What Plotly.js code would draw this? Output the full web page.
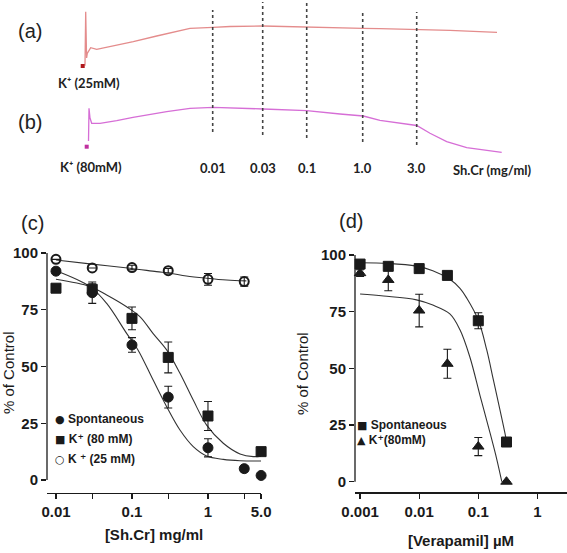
<!DOCTYPE html>
<html><head><meta charset="utf-8">
<script src="https://cdn.plot.ly/plotly-3.0.1.min.js"></script>
<style>html,body{margin:0;padding:0;background:#fff}#chart{width:567px;height:553px}</style>
</head><body><div id="chart"></div>
<script>
// ---------- Panel (a)/(b): tension recordings (arbitrary units) ----------
const traceA_t = [-0.5, 0, 0.7, 1.6, 2.3, 5.7, 11.7, 25, 48.3, 71.7, 91.7, 105, 128, 145, 178, 222, 278, 295, 332, 365, 412];
const traceA_v = [5, 5, 58.3, 12, 16.7, 22.3, 20.7, 23.3, 28.3, 34, 39, 41.7, 42.7, 43.5, 44, 43.3, 41.7, 41.3, 40.7, 39.7, 37.7];
const traceB_t = [3.5, 4, 5, 6.7, 15, 31.7, 48, 65, 81.7, 105, 128.3, 178.3, 221.7, 255, 278.3, 295, 315, 331.7, 345, 361.7, 381.7, 401.7, 416.7];
const traceB_v = [19, 51.7, 42, 36.7, 36.7, 39.3, 42.7, 45.7, 48.3, 51.7, 52.7, 51, 49.3, 46, 44, 39.7, 36.7, 34.5, 26.7, 18.3, 12.3, 9.3, 7.7];
const kAddA = {t: [-2.3], v: [4]};
const kAddB = {t: [1.7], v: [13.3]};
const addTimes = [127.7, 177.7, 221.7, 277.7, 331.7];
const addDoses = ['0.01', '0.03', '0.1', '1.0', '3.0'];

// ---------- Panel (c): Sh.Cr ----------
const shDose = [0.01, 0.03, 0.1, 0.3, 1, 3, 5];
const shSpont = [92, 82.5, 59.5, 36.5, 14.2, 5, 2];
const shSpontErr = [0, 4.7, 3.2, 4.8, 4, 1.3, 0];
const shK80Dose = [0.01, 0.03, 0.1, 0.3, 1, 5];
const shK80 = [84.5, 84, 71.2, 54, 28.2, 12.5];
const shK80Err = [0, 2.4, 5, 6.8, 6.4, 0];
const shK25Dose = [0.01, 0.03, 0.1, 0.3, 1, 3];
const shK25 = [97.2, 93.4, 93.6, 92.2, 88.4, 87.4];
const shK25Err = [0, 0, 1, 1, 2.6, 2];
const shMajorTicks = [0.01, 0.1, 1, 5];
const shMajorText = ['0.01', '0.1', '1', '5.0'];
const shMinorTicks = [0.03, 0.3, 3];
// fitted curves
const fitSpontX = [0.01, 0.028, 0.0465, 0.085, 0.12, 0.19, 0.286, 0.428, 0.64, 0.96, 1.59, 2.64, 5];
const fitSpontY = [92.2, 85.2, 77.8, 64.6, 57.3, 44, 32.3, 22, 14.7, 10.6, 9.1, 8.5, 8.4];
const fitK80X = [0.01, 0.028, 0.0465, 0.085, 0.127, 0.19, 0.286, 0.428, 0.64, 0.96, 1.59, 2.64, 3.94, 5];
const fitK80Y = [88.4, 85.2, 81.5, 76.3, 72, 64.5, 57.3, 47, 35.2, 24.2, 16.2, 11.5, 10.3, 10.5];
const fitK25X = [0.01, 0.028, 0.094, 0.21, 0.316, 0.52, 0.96, 1.76, 3.2];
const fitK25Y = [96.9, 95.2, 93.3, 91.8, 91.1, 89.9, 88.9, 88.1, 87.7];

// ---------- Panel (d): Verapamil ----------
const vDose = [0.001, 0.003, 0.01, 0.03, 0.1, 0.3];
const vSpont = [96, 95, 94, 91, 71, 17.5];
const vSpontErr = [0, 0, 0, 0, 3.5, 0];
const vK80 = [92, 89, 75.5, 52, 15.5, 0];
const vK80Err = [1.5, 4.8, 7.2, 6.4, 4, 0];
const vTicks = [0.001, 0.01, 0.1, 1];
const vTickText = ['0.001', '0.01', '0.1', '1'];
const vFitSpontX = [0.001, 0.003, 0.009, 0.017, 0.033, 0.049, 0.064, 0.1, 0.139, 0.18, 0.233, 0.283, 0.3];
const vFitSpontY = [96.6, 96.3, 95.1, 93.1, 89.3, 85.3, 80.9, 71.3, 58.1, 44.9, 31.6, 21.3, 17.6];
const vFitK80X = [0.001, 0.0025, 0.009, 0.017, 0.033, 0.049, 0.072, 0.107, 0.158, 0.205, 0.25];
const vFitK80Y = [82.8, 81.9, 80.2, 77.9, 74, 67, 55, 38, 21.5, 10, 0];

const yTicks = [0, 25, 50, 75, 100];
const yTickText = ['0', '25', '50', '75', '100'];

const W = 567, H = 553;
const px = p => p / W, py = p => 1 - p / H;
const FONT = 'Liberation Sans, Arial, sans-serif';
const INK = '#1a1a1a';

function pts(x, y, err, sym, extra) {
  return Object.assign({
    x: x, y: y, mode: 'markers', type: 'scatter', cliponaxis: false, hoverinfo: 'skip',
    marker: {symbol: sym, size: 10, color: INK, line: {color: INK, width: 1}},
    error_y: {type: 'data', array: err, visible: true, color: INK, thickness: 1.1, width: 4}
  }, extra || {});
}
function fit(x, y, xa, ya) {
  return {x: x, y: y, mode: 'lines', type: 'scatter', xaxis: xa, yaxis: ya, cliponaxis: false,
    hoverinfo: 'skip', line: {color: '#333', width: 1.1, shape: 'spline', smoothing: 1}};
}

const data = [
  // recordings
  {x: traceA_t, y: traceA_v, xaxis: 'x3', yaxis: 'y3', mode: 'lines', type: 'scatter', hoverinfo: 'skip',
   line: {color: 'rgb(228,140,140)', width: 1.3}},
  {x: kAddA.t, y: kAddA.v, xaxis: 'x3', yaxis: 'y3', mode: 'markers', type: 'scatter', hoverinfo: 'skip',
   marker: {symbol: 'square', size: 4, color: '#b0181c'}},
  {x: traceB_t, y: traceB_v, xaxis: 'x3', yaxis: 'y4', mode: 'lines', type: 'scatter', hoverinfo: 'skip',
   line: {color: 'rgb(214,110,214)', width: 1.3}},
  {x: kAddB.t, y: kAddB.v, xaxis: 'x3', yaxis: 'y4', mode: 'markers', type: 'scatter', hoverinfo: 'skip',
   marker: {symbol: 'square', size: 4, color: '#c0309f'}},
  // panel c
  fit(fitSpontX, fitSpontY, 'x', 'y'),
  fit(fitK80X, fitK80Y, 'x', 'y'),
  fit(fitK25X, fitK25Y, 'x', 'y'),
  pts(shK25Dose, shK25, shK25Err, 'circle-open', {xaxis: 'x', yaxis: 'y', marker: {symbol: 'circle-open', size: 9, color: INK, line: {color: INK, width: 2}}}),
  pts(shK80Dose, shK80, shK80Err, 'square', {xaxis: 'x', yaxis: 'y'}),
  pts(shDose, shSpont, shSpontErr, 'circle', {xaxis: 'x', yaxis: 'y'}),
  // panel d
  fit(vFitSpontX, vFitSpontY, 'x2', 'y2'),
  fit(vFitK80X, vFitK80Y, 'x2', 'y2'),
  pts(vDose, vSpont, vSpontErr, 'square', {xaxis: 'x2', yaxis: 'y2'}),
  pts(vDose, vK80, vK80Err, 'triangle-up', {xaxis: 'x2', yaxis: 'y2'})
];

const tickfont = {family: FONT, size: 15, color: INK, weight: 'bold'};
function yAx(domain, range, anchor, standoff) {
  return {domain: domain, range: range, anchor: anchor, showline: false, showgrid: false, zeroline: false,
    tickmode: 'array', tickvals: yTicks, ticktext: yTickText,
    ticks: 'outside', ticklen: 5, tickwidth: 1.3, tickcolor: INK, tickfont: tickfont, automargin: false,
    title: {text: '% of Control', font: {family: FONT, size: 15, color: INK}, standoff: standoff}, fixedrange: true};
}
function xAx(domain, range, anchor, vals, text, minorVals, title, standoff) {
  const ax = {type: 'log', domain: domain, range: range, anchor: anchor, showline: true, linecolor: INK, linewidth: 1.3,
    showgrid: false, zeroline: false, tickmode: 'array', tickvals: vals, ticktext: text,
    ticks: 'outside', ticklen: 5, tickwidth: 1.3, tickcolor: INK, tickfont: tickfont, automargin: false,
    title: {text: title, font: {family: FONT, size: 15, color: INK, weight: 'bold'}, standoff: standoff}, fixedrange: true};
  if (minorVals) ax.minor = {tickmode: 'array', tickvals: minorVals, ticks: 'outside', ticklen: 5, tickwidth: 1.3, tickcolor: INK, showgrid: false};
  return ax;
}
const hidden = (domain, range, anchor) => ({domain: domain, range: range, anchor: anchor, visible: false, fixedrange: true});

const shapes = [
  {type: 'line', xref: 'x domain', yref: 'y', x0: 0, x1: 0, y0: 0, y1: 100, line: {color: INK, width: 1.3}},
  {type: 'line', xref: 'x2 domain', yref: 'y2', x0: 0, x1: 0, y0: 0, y1: 100, line: {color: INK, width: 1.3}}
];
const lineTops = [10, 2, 2, 10, 12], lineBots = [132, 135, 138, 142, 145];
addTimes.forEach((t, i) => shapes.push({type: 'line', xref: 'x3', yref: 'paper', x0: t, x1: t,
  y0: py(lineBots[i]), y1: py(lineTops[i]), line: {color: '#444', width: 1.6, dash: 'dot'}}));

const ann = (x, y, text, font, extra) => Object.assign({xref: 'paper', yref: 'paper', x: px(x), y: py(y), text: text,
  showarrow: false, font: font, xanchor: 'center', yanchor: 'middle'}, extra || {});
const panelFont = {family: FONT, size: 20, color: '#222'};
const traceFont = {family: 'Lato, Noto Sans, DejaVu Sans, sans-serif', size: 13, color: '#222', weight: 'bold'};
const legFont = {family: 'Liberation Sans, DejaVu Sans, sans-serif', size: 12, color: INK, weight: 'bold'};
const sym = s => '<span style="font-family:DejaVu Sans;font-size:11px;font-weight:normal">' + s + '</span> ';

const annotations = [
  ann(30, 31, '(a)', panelFont), ann(30, 122, '(b)', panelFont),
  ann(32, 223, '(c)', panelFont), ann(351, 221, '(d)', panelFont),
  ann(89, 83, 'K⁺ (25mM)', traceFont), ann(91, 167, 'K⁺ (80mM)', traceFont),
  ann(492, 170, 'Sh.Cr (mg/ml)', traceFont),
  // legend (c)
  ann(53, 419, sym('●') + 'Spontaneous', legFont, {xanchor: 'left'}),
  ann(53, 439, sym('■') + 'K⁺ (80 mM)', legFont, {xanchor: 'left'}),
  ann(53, 459, sym('○') + 'K ⁺ (25 mM)', legFont, {xanchor: 'left'}),
  // legend (d)
  ann(355, 425, sym('■') + 'Spontaneous', legFont, {xanchor: 'left'}),
  ann(355, 440, sym('▲') + 'K⁺(80mM)', legFont, {xanchor: 'left'})
];
addTimes.forEach((t, i) => annotations.push({xref: 'x3', yref: 'paper', x: t, y: py(168), text: addDoses[i],
  showarrow: false, font: traceFont, xanchor: 'center', yanchor: 'middle'}));

const layout = {
  width: W, height: H, margin: {l: 0, r: 0, t: 0, b: 0}, paper_bgcolor: '#fff', plot_bgcolor: 'rgba(0,0,0,0)',
  showlegend: false,
  xaxis: xAx([px(47), px(261.1)], [-2.118, 0.699], 'y', shMajorTicks, shMajorText, shMinorTicks, '[Sh.Cr] mg/ml', 10),
  yaxis: yAx([py(492.6), py(253)], [-5.55, 100], 'x', 0),
  xaxis2: xAx([px(355), 1], [-3.086, 0.5008], 'y2', vTicks, vTickText, null, '[Verapamil] µM', 16),
  yaxis2: yAx([py(492.4), py(255)], [-4.72, 100], 'x2', 8),
  xaxis3: hidden([0, 1], [-85, 482], 'y3'),
  yaxis3: hidden([py(90), 1], [-20, 70], 'x3'),
  yaxis4: hidden([py(180), py(90)], [-20, 70], 'x3'),
  shapes: shapes, annotations: annotations
};
Plotly.newPlot('chart', data, layout, {displayModeBar: false, staticPlot: true}).then(gd => {
  gd.querySelectorAll('text').forEach(t => { if (!t.textContent.trim()) t.remove(); });
});
</script></body></html>
